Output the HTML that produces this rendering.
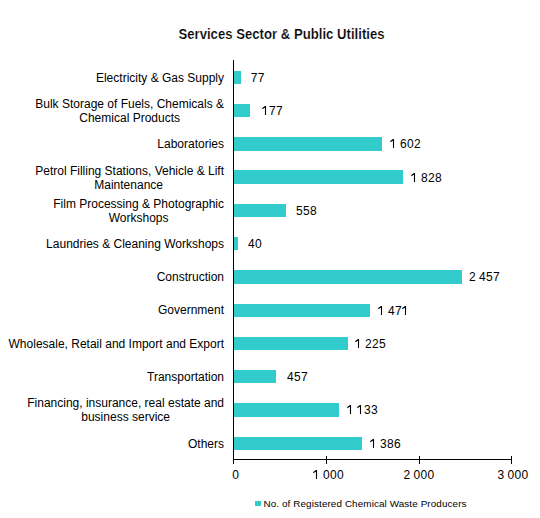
<!DOCTYPE html>
<html><head><meta charset="utf-8"><style>
html,body{margin:0;padding:0;background:#fff;}
svg{display:block;font-family:"Liberation Sans",sans-serif;font-size:12px;fill:#000;}
</style></head><body>
<svg width="540" height="518" viewBox="0 0 540 518">
<rect width="540" height="518" fill="#fff"/>
<text transform="translate(281.5 39) scale(0.94 1)" x="0" y="0" text-anchor="middle" font-weight="bold" font-size="14" stroke="#fff" stroke-width="0.2">Services Sector &amp; Public Utilities</text>
<rect x="233" y="60" width="1" height="404" fill="#000"/>
<rect x="233" y="459" width="279" height="1" fill="#000"/>
<rect x="326" y="456" width="1" height="8" fill="#000"/>
<rect x="419" y="456" width="1" height="8" fill="#000"/>
<rect x="511" y="456" width="1" height="8" fill="#000"/>

<rect x="234" y="71" width="7" height="13" fill="#33CCCC"/>
<text x="250.80 257.80" y="82">77</text>
<text x="224" y="82" text-anchor="end">Electricity &amp; Gas Supply</text>
<rect x="234" y="104" width="16" height="13" fill="#33CCCC"/>
<text x="269.00 276.00" y="115">77</text><path d="M266.05 115L264.95 115L264.95 107.70L262.20 109.30L262.20 108.10L265.00 106.00L266.05 106.00Z"/>
<text x="129.65" y="108" text-anchor="middle">Bulk Storage of Fuels, Chemicals &amp;</text>
<text x="129.65" y="122" text-anchor="middle">Chemical Products</text>
<rect x="234" y="137" width="148" height="14" fill="#33CCCC"/>
<text x="400.00 407.00 414.00" y="148">602</text><path d="M394.05 148L392.95 148L392.95 140.70L390.20 142.30L390.20 141.10L393.00 139.00L394.05 139.00Z"/>
<text x="224" y="148" text-anchor="end">Laboratories</text>
<rect x="234" y="170" width="169" height="14" fill="#33CCCC"/>
<text x="421.00 428.00 435.00" y="182">828</text><path d="M415.05 182L413.95 182L413.95 174.70L411.20 176.30L411.20 175.10L414.00 173.00L415.05 173.00Z"/>
<text x="129.64" y="175" text-anchor="middle">Petrol Filling Stations, Vehicle &amp; Lift</text>
<text x="128.64" y="189" text-anchor="middle">Maintenance</text>
<rect x="234" y="204" width="52" height="13" fill="#33CCCC"/>
<text x="295.90 302.90 309.90" y="215">558</text>
<text x="138.64" y="208" text-anchor="middle">Film Processing &amp; Photographic</text>
<text x="138.64" y="222" text-anchor="middle">Workshops</text>
<rect x="234" y="237" width="4" height="13" fill="#33CCCC"/>
<text x="248.00 255.00" y="248">40</text>
<text x="224" y="248" text-anchor="end">Laundries &amp; Cleaning Workshops</text>
<rect x="234" y="270" width="228" height="14" fill="#33CCCC"/>
<text x="469.00 479.00 486.00 493.00" y="281">2457</text>
<text x="224" y="281" text-anchor="end">Construction</text>
<rect x="234" y="304" width="136" height="13" fill="#33CCCC"/>
<text x="388.00 395.00" y="315">47</text><path d="M382.05 315L380.95 315L380.95 307.70L378.20 309.30L378.20 308.10L381.00 306.00L382.05 306.00Z"/><path d="M406.05 315L404.95 315L404.95 307.70L402.20 309.30L402.20 308.10L405.00 306.00L406.05 306.00Z"/>
<text x="224" y="314" text-anchor="end">Government</text>
<rect x="234" y="337" width="114" height="13" fill="#33CCCC"/>
<text x="365.00 372.00 379.00" y="348">225</text><path d="M359.05 348L357.95 348L357.95 340.70L355.20 342.30L355.20 341.10L358.00 339.00L359.05 339.00Z"/>
<text x="224" y="348" text-anchor="end">Wholesale, Retail and Import and Export</text>
<rect x="234" y="370" width="42" height="13" fill="#33CCCC"/>
<text x="287.00 294.00 301.00" y="381">457</text>
<text x="224" y="381" text-anchor="end">Transportation</text>
<rect x="234" y="403" width="105" height="14" fill="#33CCCC"/>
<text x="364.00 371.00" y="414">33</text><path d="M351.05 414L349.95 414L349.95 406.70L347.20 408.30L347.20 407.10L350.00 405.00L351.05 405.00Z"/><path d="M361.05 414L359.95 414L359.95 406.70L357.20 408.30L357.20 407.10L360.00 405.00L361.05 405.00Z"/>
<text x="125.63" y="407" text-anchor="middle">Financing, insurance, real estate and</text>
<text x="125.63" y="421" text-anchor="middle">business service</text>
<rect x="234" y="437" width="128" height="13" fill="#33CCCC"/>
<text x="380.00 387.00 394.00" y="448">386</text><path d="M374.05 448L372.95 448L372.95 440.70L370.20 442.30L370.20 441.10L373.00 439.00L374.05 439.00Z"/>
<text x="224" y="448" text-anchor="end">Others</text>

<text x="232.20" y="479">0</text><text x="323.00 330.00 337.00" y="479">000</text><path d="M317.05 479L315.95 479L315.95 471.70L313.20 473.30L313.20 472.10L316.00 470.00L317.05 470.00Z"/><text x="403.40 413.40 420.40 427.40" y="479">2000</text><text x="497.50 507.50 514.50 521.50" y="479">3000</text>
<rect x="255" y="501" width="6" height="5" fill="#33CCCC"/>
<text x="263.5" y="507" font-size="9.9" letter-spacing="0.1">No. of Registered Chemical Waste Producers</text>
</svg>
</body></html>
